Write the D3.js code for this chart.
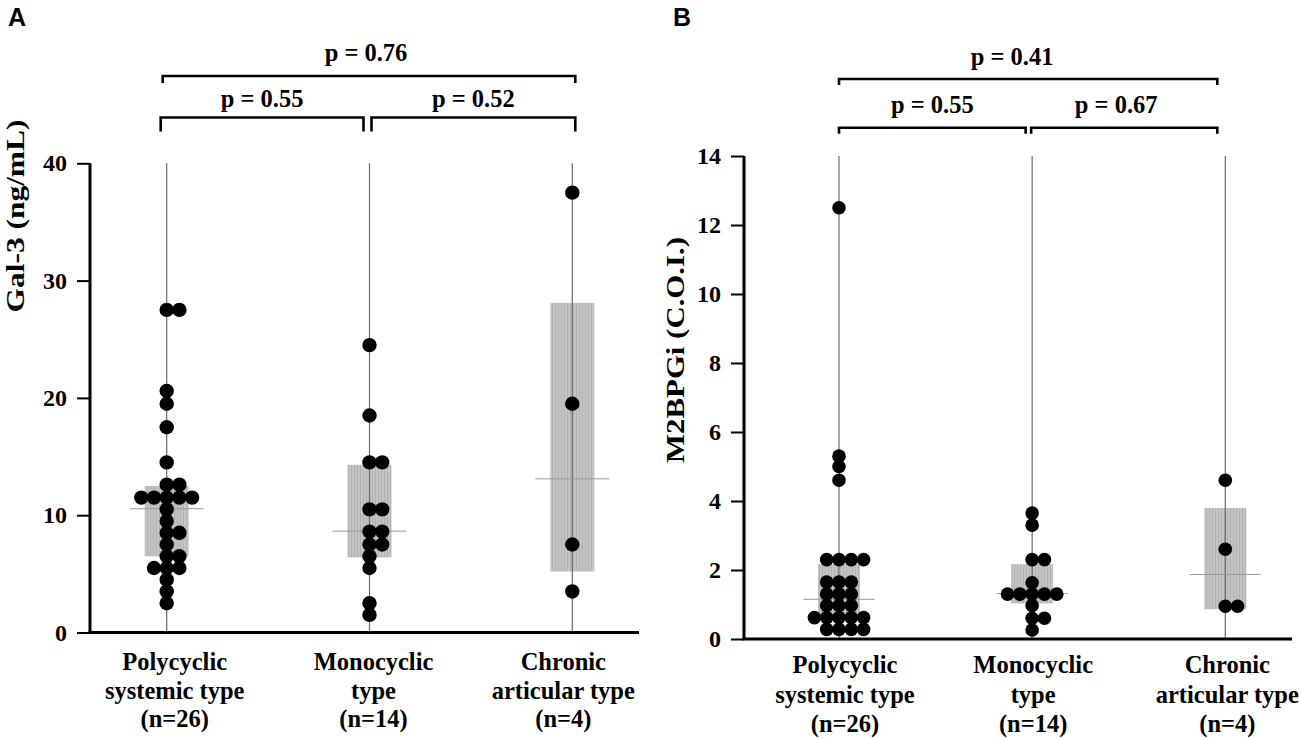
<!DOCTYPE html>
<html><head><meta charset="utf-8">
<script src="https://cdn.jsdelivr.net/npm/d3@7"></script>
<style>body{margin:0;background:#fff}svg{display:block}</style>
</head><body>
<svg id="c" width="1299" height="738"></svg>
<script>
// ---------- data ----------
const categories = ["Polycyclic systemic type", "Monocyclic type", "Chronic articular type"];
const labelLines = [["Polycyclic","systemic type","(n=26)"],["Monocyclic","type","(n=14)"],["Chronic","articular type","(n=4)"]];

const galPoly = [27.5,27.5,20.6,19.5,17.5,14.5,12.6,12.6,11.5,11.5,11.5,11.5,11.5,10.5,9.5,8.5,8.5,7.5,6.5,6.5,5.5,5.5,5.5,4.5,3.5,2.5];
const galMono = [24.5,18.5,14.5,14.5,10.5,10.5,8.6,8.6,7.5,7.5,6.5,5.5,2.5,1.5];
const galChronic = [37.5,19.5,7.5,3.5];
const galQ1 = [6.5, 6.4, 5.2];
const galQ3 = [12.5, 14.3, 28.1];
const galMedian = [10.55, 8.64, 13.1];
const galTicks = [0,10,20,30,40];
const galPvals = ["p = 0.55","p = 0.52","p = 0.76"];

const m2Poly = [12.5,5.3,5.0,4.6,2.3,2.3,2.3,2.3,1.65,1.65,1.65,1.3,1.3,1.3,0.97,0.97,0.97,0.62,0.62,0.62,0.62,0.62,0.28,0.28,0.28,0.28];
const m2Mono = [3.65,3.3,2.3,2.3,1.63,1.3,1.3,1.3,1.3,1.3,0.97,0.6,0.6,0.26];
const m2Chronic = [4.6,2.6,0.95,0.95];
const m2Q1 = [0.62, 1.03, 0.86];
const m2Q3 = [2.17, 2.17, 3.8];
const m2Median = [1.15, 1.32, 1.87];
const m2Ticks = [0,2,4,6,8,10,12,14];
const m2Pvals = ["p = 0.55","p = 0.67","p = 0.41"];

// ---------- drawing ----------
const svg = d3.select("#c");
const defs = svg.append("defs");
const pat = defs.append("pattern").attr("id","stripe").attr("patternUnits","userSpaceOnUse")
  .attr("width",3).attr("height",10);
pat.append("rect").attr("width",3).attr("height",10).attr("fill","#c4c4c4");
pat.append("rect").attr("width",1).attr("height",10).attr("fill","#b2b2b2");

const serif = "'Liberation Serif','Times New Roman',serif";

function panel(cfg){
  const g = svg.append("g");
  const x = d3.scalePoint().domain(categories).range(cfg.xCenters);
  const y = d3.scaleLinear().domain(cfg.domain).range([cfg.yBottom, cfg.yTop]);
  const groups = [cfg.poly, cfg.mono, cfg.chronic];

  // boxes
  categories.forEach((c,i) => {
    g.append("rect").attr("x",x(c)-cfg.boxW/2).attr("width",cfg.boxW)
      .attr("y",y(cfg.q3[i])).attr("height",y(cfg.q1[i])-y(cfg.q3[i]))
      .attr("fill","url(#stripe)");
  });
  // vertical guide lines
  categories.forEach(c => {
    g.append("line").attr("x1",x(c)).attr("x2",x(c))
      .attr("y1",y(cfg.domain[1])).attr("y2",y(0))
      .attr("stroke","#6a6a6a").attr("stroke-width",1.2);
  });
  categories.forEach((c,i) => {
    g.append("line").attr("x1",x(c)-cfg.medW/2).attr("x2",x(c)+cfg.medW/2)
      .attr("y1",y(cfg.median[i])).attr("y2",y(cfg.median[i]))
      .attr("stroke","#9a9a9a").attr("stroke-width",1);
  });

  // dots (beeswarm by identical values)
  const order = [0,1,-1,2,-2,3,-3];
  categories.forEach((c,i) => {
    const counts = new Map();
    groups[i].forEach(v => {
      const k = counts.get(v) || 0;
      counts.set(v, k+1);
      g.append("circle").attr("cx", x(c) + order[k]*cfg.spacing).attr("cy", y(v))
        .attr("r", cfg.r).attr("fill","#000");
    });
  });

  // axes
  const yAxis = d3.axisLeft(y).tickValues(cfg.ticks).tickSize(13).tickPadding(10).tickFormat(d3.format("d"));
  const ya = g.append("g").attr("transform",`translate(${cfg.xAxis},0)`).call(yAxis);
  ya.select(".domain").attr("stroke","#000").attr("stroke-width",3).attr("d",`M0,${y(cfg.domain[1])}V${y(0)}`);
  ya.selectAll(".tick line").attr("stroke","#000").attr("stroke-width",2);
  ya.selectAll(".tick text").attr("font-family",serif).attr("font-weight","bold")
    .attr("font-size",24).attr("fill","#000");

  g.append("line").attr("x1",cfg.xAxis-1.5).attr("x2",cfg.xAxisEnd).attr("y1",y(0)).attr("y2",y(0))
    .attr("stroke","#000").attr("stroke-width",3);

  // x labels
  categories.forEach((c,i) => {
    const t = g.append("text").attr("text-anchor","middle").attr("font-family",serif)
      .attr("font-weight","bold").attr("font-size",24.5).attr("fill","#000");
    labelLines[i].forEach((ln,j) => {
      t.append("tspan").attr("x", x(c)+cfg.labelOff[i]).attr("y", cfg.labelY[j]).text(ln);
    });
  });

  // y title
  g.append("text").attr("transform",`translate(${cfg.titleX},${cfg.titleY}) rotate(-90)`)
    .attr("text-anchor","middle").attr("font-family",serif).attr("font-weight","bold")
    .attr("font-size",25).attr("textLength",cfg.titleLen).attr("lengthAdjust","spacingAndGlyphs")
    .attr("fill","#000").text(cfg.title);

  // brackets
  const xs = categories.map(c => x(c));
  const br = cfg.br;
  function bracket(x1,x2,yy,drop){
    g.append("path").attr("d",`M${x1},${yy+drop}V${yy}H${x2}V${yy+drop}`)
      .attr("fill","none").attr("stroke","#000").attr("stroke-width",2.6);
  }
  bracket(xs[0]+br.l0, xs[1]+br.l1, br.lowY, br.lowDrop);
  bracket(xs[1]+br.r0, xs[2]+br.r1, br.lowY, br.lowDrop);
  bracket(xs[0]+br.t0, xs[2]+br.t1, br.topY, br.topDrop);
  const ptxt = (tx,ty,s) => g.append("text").attr("x",tx).attr("y",ty).attr("text-anchor","middle")
    .attr("font-family",serif).attr("font-weight","bold").attr("font-size",24.5).attr("fill","#000").text(s);
  ptxt((xs[0]+br.l0+xs[1]+br.l1)/2, br.lowTextY, cfg.pvals[0]);
  ptxt((xs[1]+br.r0+xs[2]+br.r1)/2 + br.rTextOff, br.lowTextY, cfg.pvals[1]);
  ptxt((xs[0]+br.t0+xs[2]+br.t1)/2 + br.tTextOff, br.topTextY, cfg.pvals[2]);

  // panel letter
  g.append("text").attr("x",cfg.letterX).attr("y",26).attr("font-family","'Liberation Sans',Arial,sans-serif")
    .attr("font-weight","bold").attr("font-size",25).attr("fill","#000").text(cfg.letter);
}

panel({
  letter:"A", letterX:8,
  xCenters:[166.7,572.3], domain:[0,40], yBottom:632.5, yTop:163.3,
  xAxis:90, xAxisEnd:639,
  poly:galPoly, mono:galMono, chronic:galChronic,
  q1:galQ1, q3:galQ3, median:galMedian, ticks:galTicks, pvals:galPvals,
  boxW:44, medW:74, r:7.2, spacing:12.7,
  labelOff:[8,4,-9], labelY:[670,699,727],
  title:"Gal-3 (ng/mL)", titleX:24, titleY:216, titleLen:193,
  br:{l0:-6,l1:-6,r0:2,r1:3,t0:-4,t1:3,lowY:117.5,lowDrop:14,topY:76,topDrop:7,
      lowTextY:106.5,topTextY:61,rTextOff:0,tTextOff:-3}
});

panel({
  letter:"B", letterX:673,
  xCenters:[839,1225.3], domain:[0,14], yBottom:639, yTop:156,
  xAxis:744, xAxisEnd:1292,
  poly:m2Poly, mono:m2Mono, chronic:m2Chronic,
  q1:m2Q1, q3:m2Q3, median:m2Median, ticks:m2Ticks, pvals:m2Pvals,
  boxW:42, medW:71, r:6.8, spacing:12.3,
  labelOff:[6,1,2], labelY:[673,703,732],
  title:"M2BPGi (C.O.I.)", titleX:684, titleY:350, titleLen:226,
  br:{l0:0,l1:-6.5,r0:-1,r1:-8,t0:0,t1:-8,lowY:127.7,lowDrop:6,topY:79,topDrop:6,
      lowTextY:113,topTextY:65,rTextOff:-8,tTextOff:-16}
});
</script>
</body></html>
